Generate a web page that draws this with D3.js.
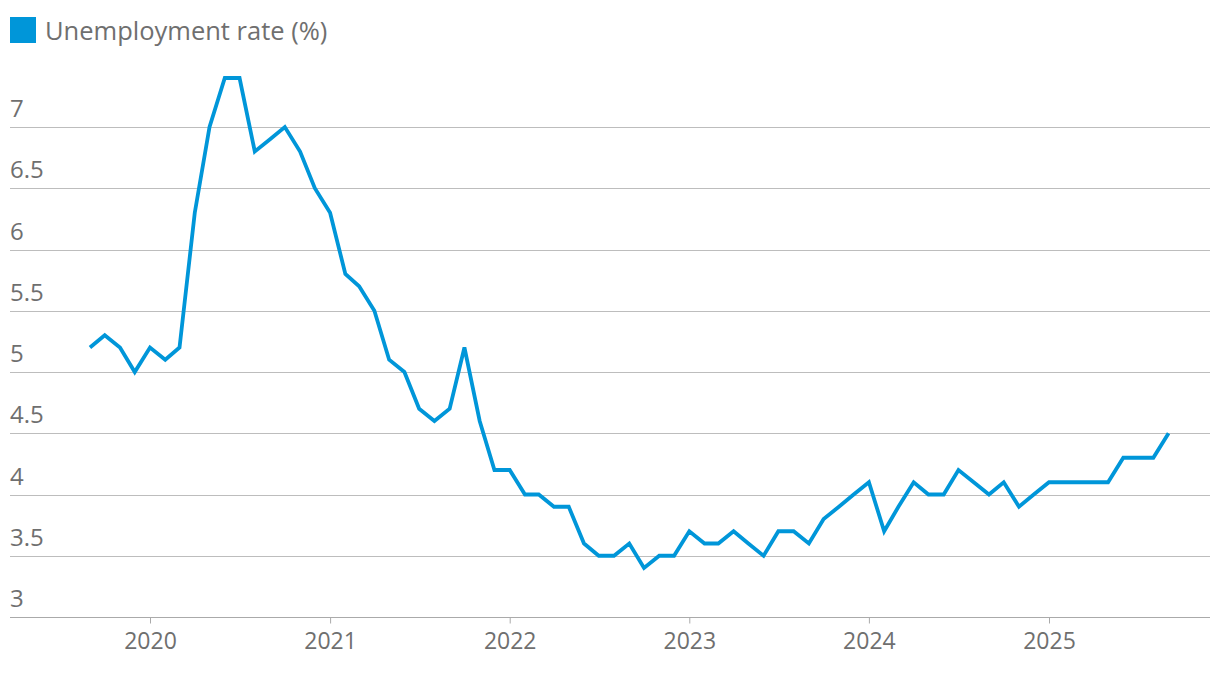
<!DOCTYPE html>
<html><head><meta charset="utf-8">
<script src="https://cdn.jsdelivr.net/npm/d3@7"></script>
<style>
body{margin:0;background:#fff;}
svg{display:block;font-family:"Open Sans",sans-serif;}
</style></head>
<body><svg id="c" width="1220" height="676"></svg>
<script>
const startYear = 2019, startMonth = 8; // September 2019 (0-based month)
const rates = [
  5.2, 5.3, 5.2, 5.0,
  5.2, 5.1, 5.2, 6.3, 7.0, 7.4, 7.4, 6.8, 6.9, 7.0, 6.8, 6.5,
  6.3, 5.8, 5.7, 5.5, 5.1, 5.0, 4.7, 4.6, 4.7, 5.2, 4.6, 4.2,
  4.2, 4.0, 4.0, 3.9, 3.9, 3.6, 3.5, 3.5, 3.6, 3.4, 3.5, 3.5,
  3.7, 3.6, 3.6, 3.7, 3.6, 3.5, 3.7, 3.7, 3.6, 3.8, 3.9, 4.0,
  4.1, 3.7, 3.9, 4.1, 4.0, 4.0, 4.2, 4.1, 4.0, 4.1, 3.9, 4.0,
  4.1, 4.1, 4.1, 4.1, 4.1, 4.3, 4.3, 4.3, 4.5
];
const yTicks = [3, 3.5, 4, 4.5, 5, 5.5, 6, 6.5, 7];
const xTickYears = [2020, 2021, 2022, 2023, 2024, 2025];
const legendLabel = "Unemployment rate (%)";

const data = rates.map((v, i) => ({date: new Date(startYear, startMonth + i, 1), value: v}));

const svg = d3.select("#c");
const left = 10, right = 1210;
const x = d3.scaleTime().domain([new Date(2020,0,1), new Date(2025,0,1)]).range([150, 1049]);
const y = d3.scaleLinear().domain([3, 7]).range([617, 127]);
const color = "#0096d9";

// gridlines + y labels
const g = svg.append("g");
yTicks.forEach(t => {
  g.append("line").attr("x1", left).attr("x2", right)
    .attr("y1", Math.round(y(t)) + 0.5).attr("y2", Math.round(y(t)) + 0.5)
    .attr("stroke", t === 3 ? "#aaa" : "#bdbdbd").attr("stroke-width", 1);
  g.append("text").attr("x", left).attr("y", y(t) - 10)
    .attr("fill", "#6f6f6f").attr("font-size", 24)
    .text(String(t));
});

// x axis ticks
const xa = d3.axisBottom(x).tickValues(xTickYears.map(yr => new Date(yr,0,1)))
  .tickFormat(d3.timeFormat("%Y")).tickSize(6).tickPadding(9);
const ax = svg.append("g").attr("transform", `translate(0,${Math.round(y(3)) + 0.5})`).call(xa);
ax.select(".domain").remove();
ax.selectAll(".tick line").attr("stroke", "#aaa");
ax.selectAll(".tick text").attr("fill", "#6f6f6f").attr("font-size", 23)
  .attr("font-family", "'Open Sans',sans-serif");

// line
const line = d3.line().x(d => x(d.date)).y(d => y(d.value));
svg.append("path").datum(data).attr("d", line)
  .attr("fill", "none").attr("stroke", color).attr("stroke-width", 3.8)
  .attr("stroke-linejoin", "miter").attr("stroke-linecap", "butt");

// legend
svg.append("rect").attr("x", 10).attr("y", 17).attr("width", 26).attr("height", 26).attr("fill", color);
svg.append("text").attr("x", 45).attr("y", 40).attr("font-size", 25.5).attr("fill", "#6f6f6f").text(legendLabel);
</script></body></html>
